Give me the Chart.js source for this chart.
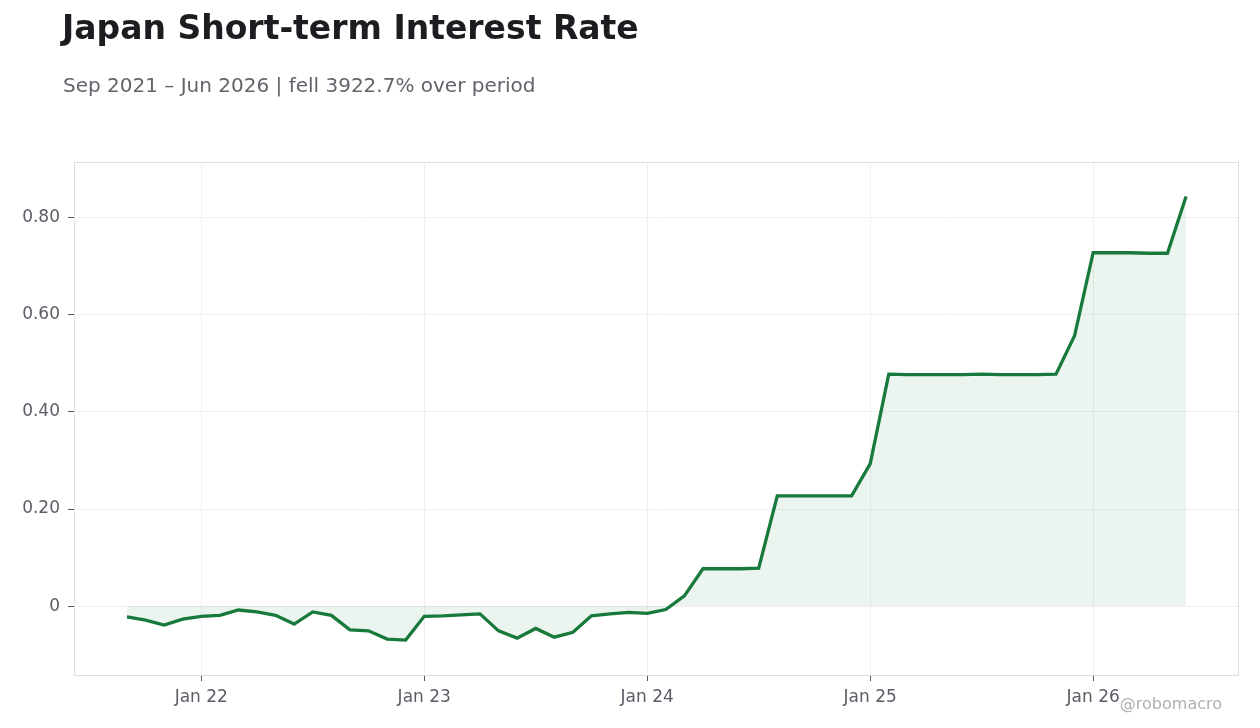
<!DOCTYPE html>
<html>
<head>
<meta charset="utf-8">
<script src="https://cdn.jsdelivr.net/npm/chart.js@4.4.1/dist/chart.umd.min.js"></script>
<style>
  html, body { margin: 0; padding: 0; background: #fff; }
  #wrap { position: relative; width: 1260px; height: 728px; font-family: "DejaVu Sans", sans-serif; }
  #title { position: absolute; left: 62px; top: 8px; font-size: 33px; font-weight: bold; color: #1c1c21; white-space: nowrap; }
  #subtitle { position: absolute; left: 63px; top: 73px; font-size: 20px; color: #62636b; white-space: nowrap; }
  #credit { position: absolute; right: 38px; top: 694px; font-size: 16px; color: #b0b0b4; white-space: nowrap; }
  canvas { position: absolute; left: 0; top: 0; }
</style>
</head>
<body>
<div id="wrap">
  <canvas id="chart" width="1260" height="728"></canvas>
  <div id="title">Japan Short-term Interest Rate</div>
  <div id="subtitle">Sep 2021 – Jun 2026 | fell 3922.7% over period</div>
  <div id="credit">@robomacro</div>
</div>
<script>
// Meses (Sep 2021 - Jun 2026)
const months = [
  '2021-09', '2021-10', '2021-11', '2021-12',
  '2022-01', '2022-02', '2022-03', '2022-04', '2022-05', '2022-06',
  '2022-07', '2022-08', '2022-09', '2022-10', '2022-11', '2022-12',
  '2023-01', '2023-02', '2023-03', '2023-04', '2023-05', '2023-06',
  '2023-07', '2023-08', '2023-09', '2023-10', '2023-11', '2023-12',
  '2024-01', '2024-02', '2024-03', '2024-04', '2024-05', '2024-06',
  '2024-07', '2024-08', '2024-09', '2024-10', '2024-11', '2024-12',
  '2025-01', '2025-02', '2025-03', '2025-04', '2025-05', '2025-06',
  '2025-07', '2025-08', '2025-09', '2025-10', '2025-11', '2025-12',
  '2026-01', '2026-02', '2026-03', '2026-04', '2026-05', '2026-06'
];

// Tasa a corto plazo (%)
const rates = [
  -0.022, -0.029, -0.039, -0.027,
  -0.021, -0.019, -0.008, -0.012, -0.019, -0.037,
  -0.012, -0.019, -0.049, -0.051, -0.068, -0.070,
  -0.021, -0.020, -0.018, -0.016, -0.051, -0.066,
  -0.046, -0.064, -0.054, -0.020, -0.016, -0.013,
  -0.015, -0.007, 0.021, 0.077, 0.077, 0.077,
  0.078, 0.227, 0.227, 0.227, 0.227, 0.227,
  0.293, 0.478, 0.477, 0.477, 0.477, 0.477,
  0.478, 0.477, 0.477, 0.477, 0.478, 0.557,
  0.728, 0.728, 0.728, 0.727, 0.727, 0.844
];

const xTickMonths = ['2022-01', '2023-01', '2024-01', '2025-01', '2026-01'];
const xTickLabels = ['Jan 22', 'Jan 23', 'Jan 24', 'Jan 25', 'Jan 26'];
const yTicks = [0, 0.2, 0.4, 0.6, 0.8];

const points = rates.map((v, i) => ({ x: i, y: v }));
const pad = (months.length - 1) * 0.05;

// Caja completa alrededor del área del gráfico
const frameBox = {
  id: 'frameBox',
  afterDraw(chart) {
    const { ctx, chartArea: a } = chart;
    ctx.save();
    ctx.strokeStyle = '#dedee0';
    ctx.lineWidth = 1;
    ctx.strokeRect(a.left + 0.5, a.top + 0.5, a.right - a.left - 1, a.bottom - a.top - 1);
    ctx.restore();
  }
};

const ctx = document.getElementById('chart').getContext('2d');
Chart.defaults.font.family = '"DejaVu Sans", sans-serif';

new Chart(ctx, {
  type: 'line',
  data: {
    datasets: [{
      data: points,
      borderColor: '#177a3c',
      backgroundColor: 'rgba(23, 122, 60, 0.085)',
      borderWidth: 3.3,
      fill: 'origin',
      pointRadius: 0,
      tension: 0
    }]
  },
  options: {
    responsive: false,
    animation: false,
    layout: { padding: { top: 162, right: 21, bottom: 0, left: 0 } },
    plugins: {
      legend: { display: false },
      tooltip: { enabled: false }
    },
    scales: {
      x: {
        type: 'linear',
        min: -pad,
        max: months.length - 1 + pad,
        afterFit(s) { s.height = 52; },
        afterBuildTicks(s) {
          s.ticks = xTickMonths.map(m => ({ value: months.indexOf(m) }));
        },
        ticks: {
          padding: 6,
          color: '#5b5c66',
          font: { size: 17 },
          maxRotation: 0,
          callback(value) {
            return xTickLabels[xTickMonths.indexOf(months[value])];
          }
        },
        grid: { color: '#f0f0f1', tickColor: '#555', tickLength: 5 },
        border: { display: false }
      },
      y: {
        min: -0.144,
        max: 0.915,
        afterFit(s) { s.width = 74; },
        afterBuildTicks(s) {
          s.ticks = yTicks.map(v => ({ value: v }));
        },
        ticks: {
          padding: 8,
          color: '#5b5c66',
          font: { size: 17 },
          callback(value) {
            return value === 0 ? '0' : value.toFixed(2);
          }
        },
        grid: { color: '#f0f0f1', tickColor: '#555', tickLength: 6 },
        border: { display: false }
      }
    }
  },
  plugins: [frameBox]
});
</script>
</body>
</html>
